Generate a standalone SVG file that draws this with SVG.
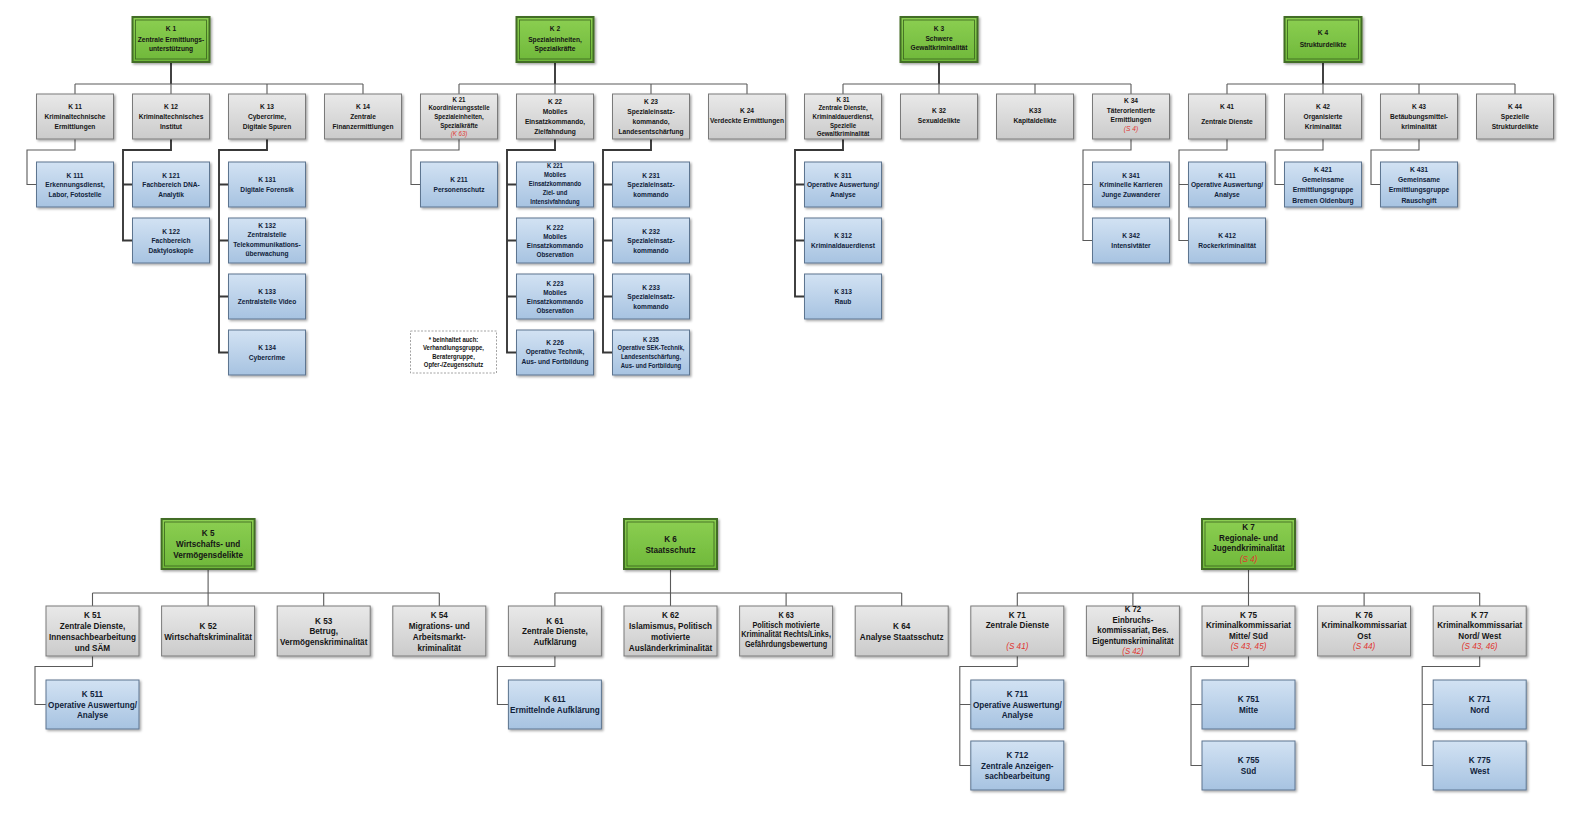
<svg xmlns="http://www.w3.org/2000/svg" width="1574" height="823" viewBox="0 0 1574 823">
<defs>
<linearGradient id="gGray" x1="0" y1="0" x2="0" y2="1"><stop offset="0" stop-color="#e9e9e9"/><stop offset="1" stop-color="#cbcbcb"/></linearGradient>
<linearGradient id="gBlue" x1="0" y1="0" x2="0" y2="1"><stop offset="0" stop-color="#d2e2f3"/><stop offset="1" stop-color="#a7c3e1"/></linearGradient>
<linearGradient id="gGreen" x1="0" y1="0" x2="0" y2="1"><stop offset="0" stop-color="#8ccf52"/><stop offset="1" stop-color="#6fb83a"/></linearGradient>
<filter id="sh" x="-10%" y="-10%" width="130%" height="130%"><feDropShadow dx="1.5" dy="1.5" stdDeviation="0.8" flood-color="#000" flood-opacity="0.35"/></filter>
</defs>
<style>
.g rect{fill:url(#gGray);stroke:#7a7a7a;stroke-width:1;filter:url(#sh)}
.b rect{fill:url(#gBlue);stroke:#5d7590;stroke-width:1;filter:url(#sh)}
.h rect.o{fill:url(#gGreen);stroke:#436d25;stroke-width:2;filter:url(#sh)}
.h rect.i{fill:none;stroke:#3a631e;stroke-width:0.8}
text{font-family:"Liberation Sans",Arial,sans-serif;font-weight:bold;text-anchor:middle;fill:#151515}
.b text{fill:#10223a}
.f1{font-size:7.8px}
.f4{font-size:7.5px}
.f5{font-size:7.2px}
.f7{font-size:7px}
.f8{font-size:8px}
.fb{font-size:9.6px}
.fc{font-size:8.6px}
.fd{font-size:9.2px}
.r{fill:#e0342f;font-style:italic;font-weight:normal}
.c path{fill:none;stroke:#5a5a5a;stroke-width:1.1}
.c path.t{stroke:#383838;stroke-width:1.9}
.note rect{fill:#fff;stroke:#9a9a9a;stroke-width:0.9;stroke-dasharray:2 1.5}
</style>
<rect x="0" y="0" width="1574" height="823" fill="#fff"/>

<g id="connectors" class="c">
<!-- K1 -->
<path class="t" d="M171,62V84"/>
<path d="M75,84H363M75,84V94M171,84V94M267,84V94M363,84V94"/>
<path d="M75,139V150H27V184.5H36.5"/>
<path class="t" d="M171,139V150H123V240.5H132.5M123,184.5H132.5"/>
<path class="t" d="M267,139V150H219V352.5H228.5M219,184.5H228.5M219,240.5H228.5M219,296.5H228.5"/>
<!-- K2 -->
<path class="t" d="M555,62V84"/>
<path d="M459,84H747M459,84V94M555,84V94M651,84V94M747,84V94"/>
<path d="M459,139V150H411V184.5H420.5"/>
<path class="t" d="M555,139V150H507V352.5H516.5M507,184.5H516.5M507,240.5H516.5M507,296.5H516.5"/>
<path class="t" d="M651,139V150H603V352.5H612.5M603,184.5H612.5M603,240.5H612.5M603,296.5H612.5"/>
<!-- K3 -->
<path class="t" d="M939,62V84"/>
<path d="M843,84H1131M843,84V94M939,84V94M1035,84V94M1131,84V94"/>
<path class="t" d="M843,139V150H795V296.5H804.5M795,184.5H804.5M795,240.5H804.5"/>
<path d="M1131,139V150H1083V240.5H1092.5M1083,184.5H1092.5"/>
<!-- K4 -->
<path class="t" d="M1323,62V84"/>
<path d="M1227,84H1515M1227,84V94M1323,84V94M1419,84V94M1515,84V94"/>
<path d="M1227,139V150H1179V240.5H1188.5M1179,184.5H1188.5"/>
<path d="M1323,139V150H1275V184.5H1284.5"/>
<path d="M1419,139V150H1371V184.5H1380.5"/>
<!-- K5 -->
<path d="M208.1,569V593M92.5,593H439.3M92.5,593V606M208.1,593V606M323.7,593V606M439.3,593V606"/>
<path d="M92.5,656V666.5H35V704.5H46"/>
<!-- K6 -->
<path d="M670.5,569V593M554.9,593H901.7M554.9,593V606M670.5,593V606M786.1,593V606M901.7,593V606"/>
<path d="M554.9,656V666.5H497.4V704.5H508.4"/>
<!-- K7 -->
<path d="M1248.5,569V593M1017.3,593H1479.7M1017.3,593V606M1132.9,593V606M1248.5,593V606M1364.1,593V606M1479.7,593V606"/>
<path d="M1017.3,656V666.5H959.8V765.5H970.8M959.8,704.5H970.8"/>
<path d="M1248.5,656V666.5H1191V765.5H1202M1191,704.5H1202"/>
<path d="M1479.7,656V666.5H1422.2V765.5H1433.2M1422.2,704.5H1433.2"/>
</g>

<!-- Top heads -->
<g id="k1" class="h"><rect class="o" x="132.5" y="17" width="77" height="45"/><rect class="i" x="135.5" y="20" width="71" height="39"/>
<text class="f1" transform="matrix(.85 0 0 1 171 0)"><tspan x="0" y="31.2">K 1</tspan><tspan x="0" y="41.8">Zentrale Ermittlungs-</tspan><tspan x="0" y="51.2">unterstützung</tspan></text></g>
<g id="k2" class="h"><rect class="o" x="516.5" y="17" width="77" height="45"/><rect class="i" x="519.5" y="20" width="71" height="39"/>
<text class="f1" transform="matrix(.85 0 0 1 555 0)"><tspan x="0" y="31.2">K 2</tspan><tspan x="0" y="41.8">Spezialeinheiten,</tspan><tspan x="0" y="51.2">Spezialkräfte</tspan></text></g>
<g id="k3" class="h"><rect class="o" x="900.5" y="17" width="77" height="45"/><rect class="i" x="903.5" y="20" width="71" height="39"/>
<text class="f1" transform="matrix(.85 0 0 1 939 0)"><tspan x="0" y="31.2">K 3</tspan><tspan x="0" y="40.8">Schwere</tspan><tspan x="0" y="50.2">Gewaltkriminalität</tspan></text></g>
<g id="k4" class="h"><rect class="o" x="1284.5" y="17" width="77" height="45"/><rect class="i" x="1287.5" y="20" width="71" height="39"/>
<text class="f1" transform="matrix(.85 0 0 1 1323 0)"><tspan x="0" y="35.4">K 4</tspan><tspan x="0" y="46.7">Strukturdelikte</tspan></text></g>

<!-- Top level 1 -->
<g id="k11" class="g"><rect x="36.5" y="94" width="77" height="45"/>
<text class="f1" transform="matrix(.85 0 0 1 75 0)"><tspan x="0" y="109.5">K 11</tspan><tspan x="0" y="119.5">Kriminaltechnische</tspan><tspan x="0" y="129.5">Ermittlungen</tspan></text></g>
<g id="k12" class="g"><rect x="132.5" y="94" width="77" height="45"/>
<text class="f1" transform="matrix(.85 0 0 1 171 0)"><tspan x="0" y="109.5">K 12</tspan><tspan x="0" y="119.5">Kriminaltechnisches</tspan><tspan x="0" y="129.5">Institut</tspan></text></g>
<g id="k13" class="g"><rect x="228.5" y="94" width="77" height="45"/>
<text class="f1" transform="matrix(.85 0 0 1 267 0)"><tspan x="0" y="109.5">K 13</tspan><tspan x="0" y="119.5">Cybercrime,</tspan><tspan x="0" y="129.5">Digitale Spuren</tspan></text></g>
<g id="k14" class="g"><rect x="324.5" y="94" width="77" height="45"/>
<text class="f1" transform="matrix(.85 0 0 1 363 0)"><tspan x="0" y="109.5">K 14</tspan><tspan x="0" y="119.5">Zentrale</tspan><tspan x="0" y="129.5">Finanzermittlungen</tspan></text></g>
<g id="k21" class="g"><rect x="420.5" y="94" width="77" height="45"/>
<text class="f5" transform="matrix(.85 0 0 1 459 0)"><tspan x="0" y="101.6">K 21</tspan><tspan x="0" y="110.3">Koordinierungsstelle</tspan><tspan x="0" y="119">Spezialeinheiten,</tspan><tspan x="0" y="127.7">Spezialkräfte</tspan><tspan class="r" x="0" y="136.4">(K 63)</tspan></text></g>
<g id="k22" class="g"><rect x="516.5" y="94" width="77" height="45"/>
<text class="f1" transform="matrix(.85 0 0 1 555 0)"><tspan x="0" y="104.2">K 22</tspan><tspan x="0" y="114.1">Mobiles</tspan><tspan x="0" y="124">Einsatzkommando,</tspan><tspan x="0" y="133.9">Zielfahndung</tspan></text></g>
<g id="k23" class="g"><rect x="612.5" y="94" width="77" height="45"/>
<text class="f1" transform="matrix(.85 0 0 1 651 0)"><tspan x="0" y="104.2">K 23</tspan><tspan x="0" y="114.1">Spezialeinsatz-</tspan><tspan x="0" y="124">kommando,</tspan><tspan x="0" y="133.9">Landesentschärfung</tspan></text></g>
<g id="k24" class="g"><rect x="708.5" y="94" width="77" height="45"/>
<text class="f1" transform="matrix(.85 0 0 1 747 0)"><tspan x="0" y="113.4">K 24</tspan><tspan x="0" y="122.7">Verdeckte Ermittlungen</tspan></text></g>
<g id="k31" class="g"><rect x="804.5" y="94" width="77" height="45"/>
<text class="f5" transform="matrix(.85 0 0 1 843 0)"><tspan x="0" y="101.6">K 31</tspan><tspan x="0" y="110.3">Zentrale Dienste,</tspan><tspan x="0" y="119">Kriminaldauerdienst,</tspan><tspan x="0" y="127.7">Spezielle</tspan><tspan x="0" y="136.4">Gewaltkriminalität</tspan></text></g>
<g id="k32" class="g"><rect x="900.5" y="94" width="77" height="45"/>
<text class="f1" transform="matrix(.85 0 0 1 939 0)"><tspan x="0" y="113">K 32</tspan><tspan x="0" y="123">Sexualdelikte</tspan></text></g>
<g id="k33" class="g"><rect x="996.5" y="94" width="77" height="45"/>
<text class="f1" transform="matrix(.85 0 0 1 1035 0)"><tspan x="0" y="113.4">K33</tspan><tspan x="0" y="123.4">Kapitaldelikte</tspan></text></g>
<g id="k34" class="g"><rect x="1092.5" y="94" width="77" height="45"/>
<text class="f1" transform="matrix(.85 0 0 1 1131 0)"><tspan x="0" y="103.4">K 34</tspan><tspan x="0" y="112.7">Täterorientierte</tspan><tspan x="0" y="122">Ermittlungen</tspan><tspan class="r" x="0" y="130.7">(S 4)</tspan></text></g>
<g id="k41" class="g"><rect x="1188.5" y="94" width="77" height="45"/>
<text class="f1" transform="matrix(.85 0 0 1 1227 0)"><tspan x="0" y="109.5">K 41</tspan><tspan x="0" y="124.2">Zentrale Dienste</tspan></text></g>
<g id="k42" class="g"><rect x="1284.5" y="94" width="77" height="45"/>
<text class="f1" transform="matrix(.85 0 0 1 1323 0)"><tspan x="0" y="109.5">K 42</tspan><tspan x="0" y="119.5">Organisierte</tspan><tspan x="0" y="129.5">Kriminalität</tspan></text></g>
<g id="k43" class="g"><rect x="1380.5" y="94" width="77" height="45"/>
<text class="f1" transform="matrix(.85 0 0 1 1419 0)"><tspan x="0" y="109.5">K 43</tspan><tspan x="0" y="119.5">Betäubungsmittel-</tspan><tspan x="0" y="129.5">kriminalität</tspan></text></g>
<g id="k44" class="g"><rect x="1476.5" y="94" width="77" height="45"/>
<text class="f1" transform="matrix(.85 0 0 1 1515 0)"><tspan x="0" y="109.5">K 44</tspan><tspan x="0" y="119.5">Spezielle</tspan><tspan x="0" y="129.5">Strukturdelikte</tspan></text></g>

<!-- Top children -->
<g id="k111" class="b"><rect x="36.5" y="162" width="77" height="45"/>
<text class="f1" transform="matrix(.85 0 0 1 75 0)"><tspan x="0" y="177.7">K 111</tspan><tspan x="0" y="187.2">Erkennungsdienst,</tspan><tspan x="0" y="196.7">Labor, Fotostelle</tspan></text></g>
<g id="k121" class="b"><rect x="132.5" y="162" width="77" height="45"/>
<text class="f1" transform="matrix(.85 0 0 1 171 0)"><tspan x="0" y="177.7">K 121</tspan><tspan x="0" y="187.2">Fachbereich DNA-</tspan><tspan x="0" y="196.7">Analytik</tspan></text></g>
<g id="k122" class="b"><rect x="132.5" y="218" width="77" height="45"/>
<text class="f1" transform="matrix(.85 0 0 1 171 0)"><tspan x="0" y="233.7">K 122</tspan><tspan x="0" y="243.2">Fachbereich</tspan><tspan x="0" y="252.7">Daktyloskopie</tspan></text></g>
<g id="k131" class="b"><rect x="228.5" y="162" width="77" height="45"/>
<text class="f1" transform="matrix(.85 0 0 1 267 0)"><tspan x="0" y="182.2">K 131</tspan><tspan x="0" y="192.2">Digitale Forensik</tspan></text></g>
<g id="k132" class="b"><rect x="228.5" y="218" width="77" height="45"/>
<text class="f1" transform="matrix(.85 0 0 1 267 0)"><tspan x="0" y="227.9">K 132</tspan><tspan x="0" y="237.4">Zentralstelle</tspan><tspan x="0" y="246.9">Telekommunikations-</tspan><tspan x="0" y="256.4">überwachung</tspan></text></g>
<g id="k133" class="b"><rect x="228.5" y="274" width="77" height="45"/>
<text class="f1" transform="matrix(.85 0 0 1 267 0)"><tspan x="0" y="294.2">K 133</tspan><tspan x="0" y="304.2">Zentralstelle Video</tspan></text></g>
<g id="k134" class="b"><rect x="228.5" y="330" width="77" height="45"/>
<text class="f1" transform="matrix(.85 0 0 1 267 0)"><tspan x="0" y="350.2">K 134</tspan><tspan x="0" y="360.2">Cybercrime</tspan></text></g>
<g id="k211" class="b"><rect x="420.5" y="162" width="77" height="45"/>
<text class="f1" transform="matrix(.85 0 0 1 459 0)"><tspan x="0" y="182.2">K 211</tspan><tspan x="0" y="192.2">Personenschutz</tspan></text></g>
<g id="k221" class="b"><rect x="516.5" y="162" width="77" height="45"/>
<text class="f7" transform="matrix(.85 0 0 1 555 0)"><tspan x="0" y="168">K 221</tspan><tspan x="0" y="177">Mobiles</tspan><tspan x="0" y="186">Einsatzkommando</tspan><tspan x="0" y="195">Ziel- und</tspan><tspan x="0" y="204">Intensivfahndung</tspan></text></g>
<g id="k222" class="b"><rect x="516.5" y="218" width="77" height="45"/>
<text class="f4" transform="matrix(.85 0 0 1 555 0)"><tspan x="0" y="229.6">K 222</tspan><tspan x="0" y="238.6">Mobiles</tspan><tspan x="0" y="247.6">Einsatzkommando</tspan><tspan x="0" y="256.6">Observation</tspan></text></g>
<g id="k223" class="b"><rect x="516.5" y="274" width="77" height="45"/>
<text class="f4" transform="matrix(.85 0 0 1 555 0)"><tspan x="0" y="285.6">K 223</tspan><tspan x="0" y="294.6">Mobiles</tspan><tspan x="0" y="303.6">Einsatzkommando</tspan><tspan x="0" y="312.6">Observation</tspan></text></g>
<g id="k226" class="b"><rect x="516.5" y="330" width="77" height="45"/>
<text class="f1" transform="matrix(.85 0 0 1 555 0)"><tspan x="0" y="344.6">K 226</tspan><tspan x="0" y="354.4">Operative Technik,</tspan><tspan x="0" y="364.2">Aus- und Fortbildung</tspan></text></g>
<g id="k231" class="b"><rect x="612.5" y="162" width="77" height="45"/>
<text class="f1" transform="matrix(.85 0 0 1 651 0)"><tspan x="0" y="177.7">K 231</tspan><tspan x="0" y="187.2">Spezialeinsatz-</tspan><tspan x="0" y="196.7">kommando</tspan></text></g>
<g id="k232" class="b"><rect x="612.5" y="218" width="77" height="45"/>
<text class="f1" transform="matrix(.85 0 0 1 651 0)"><tspan x="0" y="233.7">K 232</tspan><tspan x="0" y="243.2">Spezialeinsatz-</tspan><tspan x="0" y="252.7">kommando</tspan></text></g>
<g id="k233" class="b"><rect x="612.5" y="274" width="77" height="45"/>
<text class="f1" transform="matrix(.85 0 0 1 651 0)"><tspan x="0" y="289.7">K 233</tspan><tspan x="0" y="299.2">Spezialeinsatz-</tspan><tspan x="0" y="308.7">kommando</tspan></text></g>
<g id="k235" class="b"><rect x="612.5" y="330" width="77" height="45"/>
<text class="f7" transform="matrix(.85 0 0 1 651 0)"><tspan x="0" y="341.6">K 235</tspan><tspan x="0" y="350.4">Operative SEK-Technik,</tspan><tspan x="0" y="359.2">Landesentschärfung,</tspan><tspan x="0" y="368">Aus- und Fortbildung</tspan></text></g>
<g id="k311" class="b"><rect x="804.5" y="162" width="77" height="45"/>
<text class="f1" transform="matrix(.85 0 0 1 843 0)"><tspan x="0" y="177.7">K 311</tspan><tspan x="0" y="187.2">Operative Auswertung/</tspan><tspan x="0" y="196.7">Analyse</tspan></text></g>
<g id="k312" class="b"><rect x="804.5" y="218" width="77" height="45"/>
<text class="f1" transform="matrix(.85 0 0 1 843 0)"><tspan x="0" y="238.2">K 312</tspan><tspan x="0" y="248.2">Kriminaldauerdienst</tspan></text></g>
<g id="k313" class="b"><rect x="804.5" y="274" width="77" height="45"/>
<text class="f1" transform="matrix(.85 0 0 1 843 0)"><tspan x="0" y="294.2">K 313</tspan><tspan x="0" y="304.2">Raub</tspan></text></g>
<g id="k341" class="b"><rect x="1092.5" y="162" width="77" height="45"/>
<text class="f1" transform="matrix(.85 0 0 1 1131 0)"><tspan x="0" y="177.7">K 341</tspan><tspan x="0" y="187.2">Kriminelle Karrieren</tspan><tspan x="0" y="196.7">Junge Zuwanderer</tspan></text></g>
<g id="k342" class="b"><rect x="1092.5" y="218" width="77" height="45"/>
<text class="f1" transform="matrix(.85 0 0 1 1131 0)"><tspan x="0" y="238.2">K 342</tspan><tspan x="0" y="248.2">Intensivtäter</tspan></text></g>
<g id="k411" class="b"><rect x="1188.5" y="162" width="77" height="45"/>
<text class="f1" transform="matrix(.85 0 0 1 1227 0)"><tspan x="0" y="177.7">K 411</tspan><tspan x="0" y="187.2">Operative Auswertung/</tspan><tspan x="0" y="196.7">Analyse</tspan></text></g>
<g id="k412" class="b"><rect x="1188.5" y="218" width="77" height="45"/>
<text class="f1" transform="matrix(.85 0 0 1 1227 0)"><tspan x="0" y="238.2">K 412</tspan><tspan x="0" y="248.2">Rockerkriminalität</tspan></text></g>
<g id="k421" class="b"><rect x="1284.5" y="162" width="77" height="45"/>
<text class="f8" transform="matrix(.85 0 0 1 1323 0)"><tspan x="0" y="171.8">K 421</tspan><tspan x="0" y="182.1">Gemeinsame</tspan><tspan x="0" y="192.4">Ermittlungsgruppe</tspan><tspan x="0" y="202.7">Bremen Oldenburg</tspan></text></g>
<g id="k431" class="b"><rect x="1380.5" y="162" width="77" height="45"/>
<text class="f8" transform="matrix(.85 0 0 1 1419 0)"><tspan x="0" y="171.8">K 431</tspan><tspan x="0" y="182.1">Gemeinsame</tspan><tspan x="0" y="192.4">Ermittlungsgruppe</tspan><tspan x="0" y="202.7">Rauschgift</tspan></text></g>

<g id="note" class="note"><rect x="410.5" y="331" width="86" height="42"/>
<text class="f7" transform="matrix(.85 0 0 1 453.5 0)"><tspan x="0" y="341.7">* beinhaltet auch:</tspan><tspan x="0" y="350.5">Verhandlungsgruppe,</tspan><tspan x="0" y="359">Beratergruppe,</tspan><tspan x="0" y="367.4">Opfer-/Zeugenschutz</tspan></text></g>

<!-- Bottom heads -->
<g id="k5" class="h"><rect class="o" x="161.6" y="519" width="93" height="50"/><rect class="i" x="164.6" y="522" width="87" height="44"/>
<text class="fb" transform="matrix(.85 0 0 1 208.1 0)"><tspan x="0" y="536.4">K 5</tspan><tspan x="0" y="547.4">Wirtschafts- und</tspan><tspan x="0" y="558.4">Vermögensdelikte</tspan></text></g>
<g id="k6" class="h"><rect class="o" x="624" y="519" width="93" height="50"/><rect class="i" x="627" y="522" width="87" height="44"/>
<text class="fb" transform="matrix(.85 0 0 1 670.5 0)"><tspan x="0" y="541.9">K 6</tspan><tspan x="0" y="552.9">Staatsschutz</tspan></text></g>
<g id="k7" class="h"><rect class="o" x="1202" y="519" width="93" height="50"/><rect class="i" x="1205" y="522" width="87" height="44"/>
<text class="fb" transform="matrix(.85 0 0 1 1248.5 0)"><tspan x="0" y="530.1">K 7</tspan><tspan x="0" y="540.7">Regionale- und</tspan><tspan x="0" y="551.4">Jugendkriminalität</tspan><tspan class="r" x="0" y="562">(S 4)</tspan></text></g>

<!-- Bottom level 1 -->
<g id="k51" class="g"><rect x="46" y="606" width="93" height="50"/>
<text class="fb" transform="matrix(.85 0 0 1 92.5 0)"><tspan x="0" y="618.2">K 51</tspan><tspan x="0" y="629">Zentrale Dienste,</tspan><tspan x="0" y="639.8">Innensachbearbeitung</tspan><tspan x="0" y="650.6">und SÄM</tspan></text></g>
<g id="k52" class="g"><rect x="161.6" y="606" width="93" height="50"/>
<text class="fb" transform="matrix(.85 0 0 1 208.1 0)"><tspan x="0" y="629">K 52</tspan><tspan x="0" y="639.8">Wirtschaftskriminalität</tspan></text></g>
<g id="k53" class="g"><rect x="277.2" y="606" width="93" height="50"/>
<text class="fb" transform="matrix(.85 0 0 1 323.7 0)"><tspan x="0" y="623.6">K 53</tspan><tspan x="0" y="634.4">Betrug,</tspan><tspan x="0" y="645.2">Vermögenskriminalität</tspan></text></g>
<g id="k54" class="g"><rect x="392.8" y="606" width="93" height="50"/>
<text class="fb" transform="matrix(.85 0 0 1 439.3 0)"><tspan x="0" y="618.2">K 54</tspan><tspan x="0" y="629">Migrations- und</tspan><tspan x="0" y="639.8">Arbeitsmarkt-</tspan><tspan x="0" y="650.6">kriminalität</tspan></text></g>
<g id="k61" class="g"><rect x="508.4" y="606" width="93" height="50"/>
<text class="fb" transform="matrix(.85 0 0 1 554.9 0)"><tspan x="0" y="623.6">K 61</tspan><tspan x="0" y="634.4">Zentrale Dienste,</tspan><tspan x="0" y="645.2">Aufklärung</tspan></text></g>
<g id="k62" class="g"><rect x="624" y="606" width="93" height="50"/>
<text class="fb" transform="matrix(.85 0 0 1 670.5 0)"><tspan x="0" y="618.2">K 62</tspan><tspan x="0" y="629">Islamismus, Politisch</tspan><tspan x="0" y="639.8">motivierte</tspan><tspan x="0" y="650.6">Ausländerkriminalität</tspan></text></g>
<g id="k63" class="g"><rect x="739.6" y="606" width="93" height="50"/>
<text class="fc" transform="matrix(.85 0 0 1 786.1 0)"><tspan x="0" y="617.8">K 63</tspan><tspan x="0" y="627.6">Politisch motivierte</tspan><tspan x="0" y="637.4">Kriminalität Rechts/Links,</tspan><tspan x="0" y="647.2">Gefährdungsbewertung</tspan></text></g>
<g id="k64" class="g"><rect x="855.2" y="606" width="93" height="50"/>
<text class="fb" transform="matrix(.85 0 0 1 901.7 0)"><tspan x="0" y="629">K 64</tspan><tspan x="0" y="639.8">Analyse Staatsschutz</tspan></text></g>
<g id="k71" class="g"><rect x="970.8" y="606" width="93" height="50"/>
<text class="fb" transform="matrix(.85 0 0 1 1017.3 0)"><tspan x="0" y="617.6">K 71</tspan><tspan x="0" y="628.2">Zentrale Dienste</tspan><tspan class="r" x="0" y="649">(S 41)</tspan></text></g>
<g id="k72" class="g"><rect x="1086.4" y="606" width="93" height="50"/>
<text class="fd" transform="matrix(.85 0 0 1 1132.9 0)"><tspan x="0" y="612.2">K 72</tspan><tspan x="0" y="622.8">Einbruchs-</tspan><tspan x="0" y="633.4">kommissariat, Bes.</tspan><tspan x="0" y="644">Eigentumskriminalität</tspan><tspan class="r" x="0" y="654.4">(S 42)</tspan></text></g>
<g id="k75" class="g"><rect x="1202" y="606" width="93" height="50"/>
<text class="fb" transform="matrix(.85 0 0 1 1248.5 0)"><tspan x="0" y="617.6">K 75</tspan><tspan x="0" y="628.2">Kriminalkommissariat</tspan><tspan x="0" y="638.8">Mitte/ Süd</tspan><tspan class="r" x="0" y="649">(S 43, 45)</tspan></text></g>
<g id="k76" class="g"><rect x="1317.6" y="606" width="93" height="50"/>
<text class="fb" transform="matrix(.85 0 0 1 1364.1 0)"><tspan x="0" y="617.6">K 76</tspan><tspan x="0" y="628.2">Kriminalkommissariat</tspan><tspan x="0" y="638.8">Ost</tspan><tspan class="r" x="0" y="649">(S 44)</tspan></text></g>
<g id="k77" class="g"><rect x="1433.2" y="606" width="93" height="50"/>
<text class="fb" transform="matrix(.85 0 0 1 1479.7 0)"><tspan x="0" y="617.6">K 77</tspan><tspan x="0" y="628.2">Kriminalkommissariat</tspan><tspan x="0" y="638.8">Nord/ West</tspan><tspan class="r" x="0" y="649">(S 43, 46)</tspan></text></g>

<!-- Bottom children -->
<g id="k511" class="b"><rect x="46" y="680" width="93" height="49"/>
<text class="fb" transform="matrix(.85 0 0 1 92.5 0)"><tspan x="0" y="697.4">K 511</tspan><tspan x="0" y="707.9">Operative Auswertung/</tspan><tspan x="0" y="718.4">Analyse</tspan></text></g>
<g id="k611" class="b"><rect x="508.4" y="680" width="93" height="49"/>
<text class="fb" transform="matrix(.85 0 0 1 554.9 0)"><tspan x="0" y="702.4">K 611</tspan><tspan x="0" y="712.8">Ermittelnde Aufklärung</tspan></text></g>
<g id="k711" class="b"><rect x="970.8" y="680" width="93" height="49"/>
<text class="fb" transform="matrix(.85 0 0 1 1017.3 0)"><tspan x="0" y="697.4">K 711</tspan><tspan x="0" y="707.9">Operative Auswertung/</tspan><tspan x="0" y="718.4">Analyse</tspan></text></g>
<g id="k712" class="b"><rect x="970.8" y="741" width="93" height="49"/>
<text class="fb" transform="matrix(.85 0 0 1 1017.3 0)"><tspan x="0" y="758.4">K 712</tspan><tspan x="0" y="768.9">Zentrale Anzeigen-</tspan><tspan x="0" y="779.4">sachbearbeitung</tspan></text></g>
<g id="k751" class="b"><rect x="1202" y="680" width="93" height="49"/>
<text class="fb" transform="matrix(.85 0 0 1 1248.5 0)"><tspan x="0" y="702.4">K 751</tspan><tspan x="0" y="712.8">Mitte</tspan></text></g>
<g id="k755" class="b"><rect x="1202" y="741" width="93" height="49"/>
<text class="fb" transform="matrix(.85 0 0 1 1248.5 0)"><tspan x="0" y="763.4">K 755</tspan><tspan x="0" y="773.8">Süd</tspan></text></g>
<g id="k771" class="b"><rect x="1433.2" y="680" width="93" height="49"/>
<text class="fb" transform="matrix(.85 0 0 1 1479.7 0)"><tspan x="0" y="702.4">K 771</tspan><tspan x="0" y="712.8">Nord</tspan></text></g>
<g id="k775" class="b"><rect x="1433.2" y="741" width="93" height="49"/>
<text class="fb" transform="matrix(.85 0 0 1 1479.7 0)"><tspan x="0" y="763.4">K 775</tspan><tspan x="0" y="773.8">West</tspan></text></g>
</svg>
